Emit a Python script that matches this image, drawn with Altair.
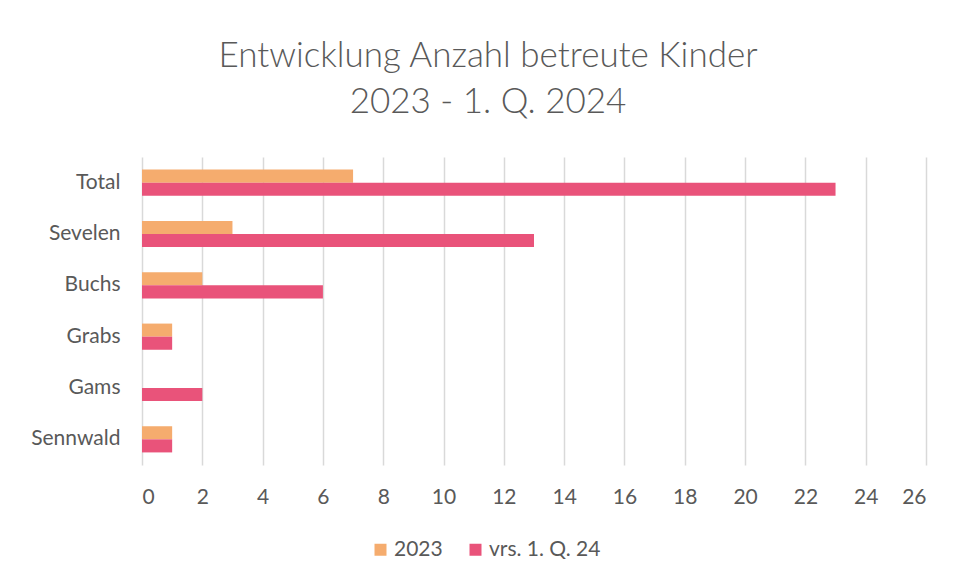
import altair as alt
import pandas as pd

categories = ["Total", "Sevelen", "Buchs", "Grabs", "Gams", "Sennwald"]
series_names = ["2023", "vrs. 1. Q. 24"]
values_2023 = [7, 3, 2, 1, 0, 1]
values_q1_24 = [23, 13, 6, 1, 2, 1]
colors = ["#F5AC6E", "#E9537A"]
x_ticks = list(range(0, 27, 2))

rows = []
for c, v in zip(categories, values_2023):
    rows.append({"Ort": c, "Serie": series_names[0], "Anzahl": v})
for c, v in zip(categories, values_q1_24):
    rows.append({"Ort": c, "Serie": series_names[1], "Anzahl": v})
df = pd.DataFrame(rows)

FONT = "Lato"
GREY = "#595959"

chart = (
    alt.Chart(df)
    .mark_bar()
    .encode(
        y=alt.Y(
            "Ort:N",
            sort=categories,
            title=None,
            scale=alt.Scale(paddingInner=0.49, paddingOuter=0.245),
            axis=alt.Axis(
                labelFontSize=21,
                labelColor=GREY,
                labelFont=FONT,
                labelPadding=22,
                ticks=False,
                domain=False,
                grid=False,
            ),
        ),
        yOffset=alt.YOffset("Serie:N", sort=series_names),
        x=alt.X(
            "Anzahl:Q",
            title=None,
            scale=alt.Scale(domain=[0, 26], nice=False),
            axis=alt.Axis(
                values=x_ticks,
                labelFontSize=21,
                labelColor=GREY,
                labelFont=FONT,
                labelPadding=21,
                ticks=False,
                domain=False,
                grid=True,
                gridColor="#D9D9D9",
                gridWidth=1.5,
            ),
        ),
        color=alt.Color(
            "Serie:N",
            sort=series_names,
            scale=alt.Scale(domain=series_names, range=colors),
            legend=alt.Legend(
                title=None,
                orient="none",
                legendX=228,
                legendY=382,
                direction="horizontal",
                symbolType="square",
                symbolSize=144,
                symbolStrokeWidth=0,
                labelFontSize=21,
                labelFont=FONT,
                labelColor=GREY,
                labelOffset=3,
                columnPadding=22,
            ),
        ),
    )
    .properties(
        width=784,
        height=308,
        autosize=alt.AutoSizeParams(type="none"),
        padding={"left": 134, "top": 149, "right": 10, "bottom": 100},
        title=alt.TitleParams(
            text=["Entwicklung Anzahl betreute Kinder", "2023 - 1. Q. 2024"],
            fontSize=35,
            font=FONT,
            fontWeight=300,
            color=GREY,
            anchor="middle",
            dx=-46,
            offset=37,
            lineHeight=46,
        ),
    )
    .configure_view(stroke=None)
)

chart.save("out.html", embed_options={"renderer": "svg", "actions": False})
